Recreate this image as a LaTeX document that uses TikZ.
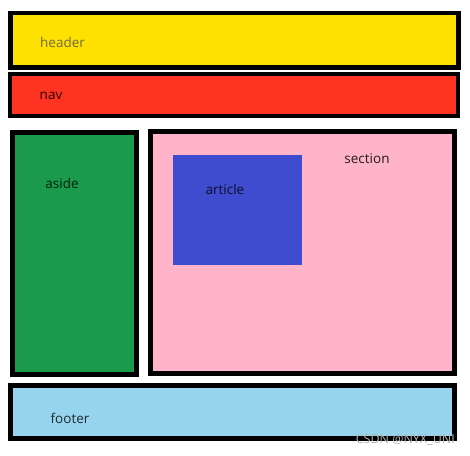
\documentclass[tikz,border=0pt]{standalone}
\usepackage{fontspec}
\setmainfont{Open Sans}
\usetikzlibrary{positioning}
\definecolor{hdrYellow}{HTML}{FFE100}
\definecolor{navRed}{HTML}{FF3322}
\definecolor{asideGreen}{HTML}{1B9A4B}
\definecolor{secPink}{HTML}{FFB4C9}
\definecolor{artBlue}{HTML}{3F4CCF}
\definecolor{footBlue}{HTML}{97D5EE}
\definecolor{hdrText}{HTML}{6E6A4A}
\definecolor{markGrey}{HTML}{B4B4B4}

\tikzset{
  area/.style={draw=black,line width=4.5pt,anchor=north west,inner sep=0pt,outer sep=0pt},
  tag/.style={font=\fontsize{13.5}{16}\selectfont,inner sep=0pt}
}

\begin{document}
\begin{tikzpicture}[x=1pt,y=-1pt]
  \useasboundingbox[fill=white] (0,0) rectangle (470,455);
  % page blocks
  \node[area,fill=hdrYellow,minimum width=448pt,minimum height=54.7pt] (header) at (10.5,13) {};
  \node[area,fill=navRed,line width=3.8pt,minimum width=447.5pt,minimum height=41.7pt] (nav) at (10.3,74) {};
  \node[area,fill=asideGreen,minimum width=124.4pt,minimum height=242.2pt] (aside) at (12.3,132.3) {};
  \node[area,fill=secPink,minimum width=304.4pt,minimum height=242.4pt] (section) at (150.3,131.3) {};
  \node[anchor=north west,fill=artBlue,inner sep=0pt,outer sep=0pt,minimum width=129pt,minimum height=110pt] (article) at (173,155) {};
  \node[area,fill=footBlue,minimum width=444.4pt,minimum height=53.4pt] (footer) at (10.3,385.3) {};
  % labels
  \node[tag,text=hdrText] (headerText) at (62.5,42) {header};
  \node[tag,text=black!85!red] (navText) at (51,96) {nav};
  \node[tag,text=black!80!asideGreen] (asideText) at (62,183) {aside};
  \node[tag,text=black!85!secPink] (sectionText) at (367,159) {section};
  \node[tag,text=black!80!artBlue] (articleText) at (225,189) {article};
  \node[tag,text=black!80!footBlue] (footerText) at (70,418) {footer};
  \node[font=\fontsize{12.5}{14}\selectfont,text=markGrey,anchor=south east,inner sep=0pt] (mark) at (455,446) {CSDN @NYX\_UNI};
\end{tikzpicture}
\end{document}
